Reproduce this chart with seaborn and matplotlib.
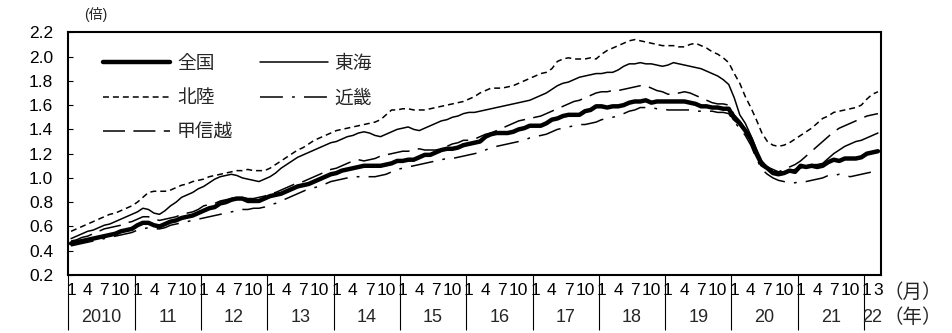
import numpy as np
import pandas as pd
import matplotlib
matplotlib.use("Agg")
import matplotlib.pyplot as plt
import seaborn as sns

# ---- categories (monthly, 2010-01 .. 2022-03) ----
periods = pd.period_range("2010-01", "2022-03", freq="M")
year_labels = ["2010", "11", "12", "13", "14", "15", "16", "17", "18", "19", "20", "21", "22"]
month_tick_labels = ["1", "4", "7", "10"]

# ---- series values (effective job-opening ratio, times) ----
zenkoku = [
    0.46, 0.47, 0.48, 0.49, 0.50, 0.51, 0.52, 0.53, 0.54, 0.56, 0.57, 0.58,
    0.61, 0.63, 0.63, 0.61, 0.60, 0.62, 0.64, 0.65, 0.67, 0.68, 0.69, 0.71,
    0.73, 0.75, 0.76, 0.79, 0.80, 0.82, 0.83, 0.83, 0.81, 0.81, 0.81, 0.83,
    0.85, 0.86, 0.87, 0.89, 0.91, 0.93, 0.94, 0.95, 0.97, 0.99, 1.01, 1.03,
    1.04, 1.06, 1.07, 1.08, 1.09, 1.10, 1.10, 1.10, 1.10, 1.11, 1.12, 1.14,
    1.14, 1.15, 1.15, 1.17, 1.19, 1.19, 1.21, 1.23, 1.24, 1.24, 1.25, 1.27,
    1.28, 1.29, 1.30, 1.34, 1.36, 1.37, 1.37, 1.37, 1.38, 1.40, 1.41, 1.43,
    1.43, 1.43, 1.45, 1.48, 1.49, 1.51, 1.52, 1.52, 1.52, 1.55, 1.56, 1.59,
    1.59, 1.58, 1.59, 1.59, 1.60, 1.62, 1.63, 1.63, 1.64, 1.62, 1.63, 1.63,
    1.63, 1.63, 1.63, 1.63, 1.62, 1.61, 1.59, 1.59, 1.58, 1.58, 1.57, 1.57,
    1.49, 1.45, 1.39, 1.32, 1.20, 1.11, 1.08, 1.04, 1.03, 1.04, 1.06, 1.05,
    1.10, 1.09, 1.10, 1.09, 1.10, 1.13, 1.15, 1.14, 1.16, 1.16, 1.16, 1.17,
    1.20, 1.21, 1.22,
]
tokai = [
    0.50, 0.52, 0.54, 0.56, 0.57, 0.59, 0.61, 0.62, 0.64, 0.66, 0.68, 0.70,
    0.72, 0.75, 0.74, 0.71, 0.70, 0.73, 0.77, 0.80, 0.84, 0.86, 0.88, 0.91,
    0.93, 0.96, 0.99, 1.01, 1.02, 1.03, 1.02, 1.00, 0.99, 0.98, 0.97, 0.99,
    1.01, 1.04, 1.08, 1.11, 1.14, 1.17, 1.19, 1.21, 1.23, 1.25, 1.27, 1.29,
    1.30, 1.32, 1.34, 1.35, 1.37, 1.38, 1.37, 1.35, 1.34, 1.36, 1.38, 1.40,
    1.41, 1.42, 1.40, 1.39, 1.41, 1.43, 1.45, 1.47, 1.48, 1.50, 1.51, 1.53,
    1.54, 1.54, 1.55, 1.56, 1.57, 1.58, 1.59, 1.60, 1.61, 1.62, 1.63, 1.64,
    1.66, 1.68, 1.70, 1.73, 1.76, 1.78, 1.79, 1.81, 1.83, 1.84, 1.85, 1.86,
    1.86, 1.87, 1.87, 1.89, 1.92, 1.94, 1.94, 1.95, 1.94, 1.94, 1.93, 1.92,
    1.93, 1.95, 1.94, 1.93, 1.92, 1.91, 1.90, 1.88, 1.86, 1.84, 1.81, 1.77,
    1.66, 1.52, 1.45, 1.35, 1.24, 1.14, 1.09, 1.07, 1.05, 1.05, 1.06, 1.07,
    1.08, 1.10, 1.11, 1.11, 1.12, 1.16, 1.20, 1.23, 1.26, 1.28, 1.30, 1.31,
    1.33, 1.35, 1.37,
]
hokuriku = [
    0.56, 0.58, 0.60, 0.62, 0.64, 0.66, 0.68, 0.70, 0.71, 0.73, 0.75, 0.77,
    0.80, 0.84, 0.88, 0.89, 0.89, 0.89, 0.90, 0.92, 0.94, 0.95, 0.97, 0.98,
    0.99, 1.01, 1.02, 1.03, 1.04, 1.05, 1.06, 1.06, 1.07, 1.06, 1.06, 1.06,
    1.08, 1.11, 1.14, 1.17, 1.20, 1.23, 1.25, 1.28, 1.31, 1.33, 1.35, 1.37,
    1.39, 1.40, 1.41, 1.42, 1.43, 1.44, 1.45, 1.46, 1.48, 1.52, 1.56, 1.56,
    1.57, 1.57, 1.56, 1.56, 1.56, 1.57, 1.58, 1.59, 1.60, 1.61, 1.62, 1.63,
    1.65, 1.67, 1.70, 1.72, 1.74, 1.74, 1.74, 1.75, 1.76, 1.78, 1.80, 1.82,
    1.84, 1.86, 1.87, 1.90, 1.96, 1.98, 1.99, 1.98, 1.98, 1.98, 1.99, 1.98,
    2.02, 2.05, 2.07, 2.09, 2.11, 2.13, 2.14, 2.13, 2.12, 2.11, 2.10, 2.09,
    2.09, 2.09, 2.08, 2.08, 2.10, 2.11, 2.09, 2.07, 2.04, 2.02, 1.99, 1.95,
    1.86, 1.78, 1.67, 1.58, 1.48, 1.37, 1.30, 1.27, 1.26, 1.27, 1.29, 1.32,
    1.35, 1.38, 1.41, 1.45, 1.49, 1.51, 1.54, 1.55, 1.56, 1.57, 1.58, 1.60,
    1.65, 1.69, 1.71,
]
kinki = [
    0.44, 0.45, 0.46, 0.47, 0.48, 0.49, 0.50, 0.51, 0.52, 0.53, 0.54, 0.55,
    0.57, 0.58, 0.59, 0.58, 0.58, 0.59, 0.61, 0.62, 0.63, 0.64, 0.65, 0.66,
    0.67, 0.68, 0.69, 0.70, 0.71, 0.72, 0.73, 0.74, 0.74, 0.75, 0.75, 0.76,
    0.78, 0.79, 0.81, 0.83, 0.85, 0.87, 0.89, 0.91, 0.92, 0.93, 0.95, 0.97,
    0.98, 0.99, 1.00, 1.01, 1.01, 1.01, 1.01, 1.01, 1.02, 1.03, 1.05, 1.07,
    1.08, 1.09, 1.10, 1.11, 1.12, 1.13, 1.14, 1.15, 1.16, 1.16, 1.17, 1.18,
    1.19, 1.20, 1.21, 1.23, 1.25, 1.26, 1.27, 1.28, 1.29, 1.30, 1.31, 1.33,
    1.34, 1.35, 1.36, 1.38, 1.40, 1.41, 1.42, 1.43, 1.44, 1.44, 1.45, 1.46,
    1.48, 1.49, 1.50, 1.51, 1.53, 1.55, 1.56, 1.58, 1.58, 1.58, 1.57, 1.57,
    1.56, 1.56, 1.56, 1.56, 1.56, 1.55, 1.55, 1.55, 1.55, 1.54, 1.54, 1.53,
    1.46, 1.41, 1.35, 1.27, 1.16, 1.07, 1.03, 1.00, 0.98, 0.97, 0.96, 0.96,
    0.97, 0.97, 0.98, 0.99, 1.00, 1.02, 1.02, 1.03, 1.02, 1.01, 1.02, 1.03,
    1.04, 1.05, 1.06,
]
koshinetsu = [
    0.48, 0.49, 0.51, 0.52, 0.54, 0.56, 0.58, 0.59, 0.60, 0.61, 0.63, 0.64,
    0.66, 0.68, 0.68, 0.66, 0.65, 0.66, 0.67, 0.68, 0.70, 0.71, 0.72, 0.74,
    0.77, 0.78, 0.79, 0.81, 0.82, 0.83, 0.84, 0.84, 0.83, 0.83, 0.84, 0.85,
    0.87, 0.88, 0.90, 0.92, 0.94, 0.96, 0.97, 0.99, 1.01, 1.03, 1.05, 1.07,
    1.08, 1.10, 1.12, 1.14, 1.15, 1.14, 1.15, 1.16, 1.18, 1.19, 1.20, 1.21,
    1.22, 1.22, 1.23, 1.24, 1.23, 1.23, 1.23, 1.24, 1.26, 1.28, 1.29, 1.31,
    1.31, 1.32, 1.34, 1.36, 1.37, 1.39, 1.41, 1.43, 1.45, 1.47, 1.48, 1.49,
    1.50, 1.51, 1.53, 1.55, 1.57, 1.59, 1.61, 1.63, 1.64, 1.66, 1.68, 1.70,
    1.71, 1.71, 1.72, 1.72, 1.73, 1.74, 1.75, 1.76, 1.76, 1.74, 1.72, 1.71,
    1.69, 1.69, 1.70, 1.71, 1.70, 1.68, 1.66, 1.64, 1.62, 1.61, 1.61, 1.60,
    1.52, 1.47, 1.40, 1.32, 1.21, 1.12, 1.08, 1.05, 1.05, 1.07, 1.09, 1.11,
    1.14, 1.18, 1.22, 1.26, 1.30, 1.34, 1.38, 1.41, 1.43, 1.45, 1.47, 1.49,
    1.51, 1.52, 1.53,
]
names = ["全国", "北陸", "甲信越", "東海", "近畿"]

# ---- style ----
sns.set_style("white")
plt.rcParams["font.family"] = ["Liberation Sans", "Noto Sans CJK JP"]

W, H = 953, 333
fig = plt.figure(figsize=(W / 100, H / 100), dpi=100)
L, R, T, B = 68.3, 880.7, 32.3, 275.0
ax = fig.add_axes([L / W, 1 - B / H, (R - L) / W, (B - T) / H])

x = np.arange(len(periods))
thin = 1.1
styles = {
    "全国": dict(vals=zenkoku, lw=3.2, ls="-"),
    "北陸": dict(vals=hokuriku, lw=thin, ls=(0, (3.9, 2.6))),
    "甲信越": dict(vals=koshinetsu, lw=thin, ls=(0, (14.4, 5.5))),
    "東海": dict(vals=tokai, lw=thin, ls="-"),
    "近畿": dict(vals=kinki, lw=thin, ls=(0, (15, 6, 1.8, 6))),
}
handles = []
for nm in names:
    st = styles[nm]
    sns.lineplot(x=x, y=st["vals"], ax=ax, color="black", linewidth=st["lw"],
                 linestyle=st["ls"], errorbar=None, sort=False, legend=False)
    handles.append(ax.get_lines()[-1])

leg = ax.legend(handles, names, ncol=2, loc="upper left",
                bbox_to_anchor=(0.0427, 0.905), frameon=False,
                handlelength=3.6, handletextpad=0.35, columnspacing=1.45,
                labelspacing=0.93, fontsize=13.5, borderpad=0, borderaxespad=0)

# y axis
ax.set_ylim(0.2, 2.2)
ax.set_yticks(np.arange(0.2, 2.21, 0.2))
ax.set_yticklabels([f"{v:.1f}" for v in np.arange(0.2, 2.21, 0.2)])
ax.tick_params(axis="y", direction="in", length=3.6, width=0.8, labelsize=12.5,
               pad=11, left=True, colors="black")

# x axis: month labels + year separators
ax.set_xlim(-0.5, len(periods) - 0.5)
tick_pos, tick_lab = [], []
for i, p in enumerate(periods):
    if p.month in (1, 4, 7, 10) and p.year < 2022:
        tick_pos.append(i)
        tick_lab.append(str(p.month))
    elif p.year == 2022 and p.month in (1, 3):
        tick_pos.append(i)
        tick_lab.append(str(p.month))
ax.set_xticks(tick_pos)
ax.set_xticklabels(tick_lab)
ax.tick_params(axis="x", which="major", length=0, labelsize=12.5, pad=6,
               bottom=True, colors="black")
year_starts = [i for i, p in enumerate(periods) if p.month == 1]
ax.set_xticks([s - 0.5 for s in year_starts], minor=True)
ax.tick_params(axis="x", which="minor", direction="out", length=39.6,
               width=0.8, bottom=True, color="black")

trans = ax.get_xaxis_transform()
years = sorted(set(p.year for p in periods))
for yr, lab in zip(years, year_labels):
    idx = [i for i, p in enumerate(periods) if p.year == yr]
    ax.text((idx[0] + idx[-1]) / 2, -0.177, lab, transform=trans,
            ha="center", va="center", fontsize=13)

for sp in ax.spines.values():
    sp.set_visible(True)
    sp.set_linewidth(1.5)
    sp.set_color("black")

fig.text(884 / W, 1 - 293 / H, "（月）", ha="left", va="center", fontsize=14)
fig.text(884 / W, 1 - 318 / H, "（年）", ha="left", va="center", fontsize=14)
fig.text(96 / W, 1 - 15 / H, "(倍)", ha="center", va="center", fontsize=10)

fig.savefig("out.png", dpi=100)
